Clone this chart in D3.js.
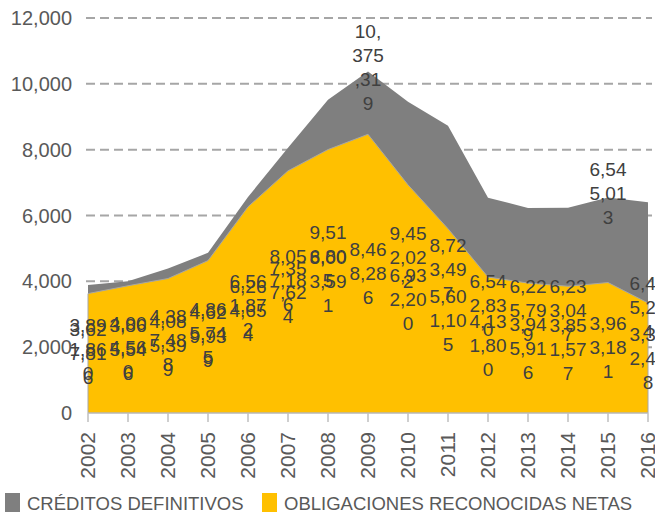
<!DOCTYPE html>
<html>
<head>
<meta charset="utf-8">
<script src="https://cdn.jsdelivr.net/npm/d3@7"></script>
<style>
  body { margin: 0; background: #fff; }
  text { font-family: "Liberation Sans", Arial, sans-serif; }
</style>
</head>
<body>
<script>
// Chart data (thousands)
let years = [2002, 2003, 2004, 2005, 2006, 2007, 2008, 2009, 2010, 2011, 2012, 2013, 2014, 2015, 2016];
let creditos = [3891.860, 4004.560, 4387.488, 4865.745, 6561.872, 8057.186, 9516.805, 10375.319,
  9452.022, 8723.497, 6542.830, 6225.799, 6233.047, 6545.013, 6405.224];
let obligaciones = [3627.816, 3865.546, 4085.399, 4629.939, 6264.654, 7357.624, 8003.591, 8468.286,
  6932.200, 5601.105, 4131.800, 3945.916, 3851.577, 3963.181, 3342.428];
let yTicks = [0, 2000, 4000, 6000, 8000, 10000, 12000];
// years where the creditos label sits on the top of the area
let topLabelYears = [2009, 2015];

let width = 655;
let height = 521;

let svg = d3.select("body").append("svg")
  .attr("width", width)
  .attr("height", height);

let x = d3.scalePoint().domain(years).range([88, 648]);
let y = d3.scaleLinear().domain([0, 12000]).range([413, 18]);

// gridlines
svg.append("g")
  .selectAll("line")
  .data(yTicks.filter(d => d > 0))
  .join("line")
  .attr("x1", 86)
  .attr("x2", 652)
  .attr("y1", d => y(d))
  .attr("y2", d => y(d))
  .attr("stroke", "#a6a6a6")
  .attr("stroke-width", 2)
  .attr("stroke-dasharray", "9,5");

// y tick labels
svg.append("g")
  .selectAll("text")
  .data(yTicks)
  .join("text")
  .attr("x", 72)
  .attr("y", d => y(d))
  .attr("dy", "0.35em")
  .attr("text-anchor", "end")
  .style("font-size", "20px")
  .attr("fill", "#595959")
  .text(d => d3.format(",")(d));

// areas
let area = d3.area()
  .x((d, i) => x(years[i]))
  .y0(y(0))
  .y1(d => y(d));

svg.append("path")
  .datum(creditos)
  .attr("d", area)
  .attr("fill", "#7f7f7f");

svg.append("path")
  .datum(obligaciones)
  .attr("d", area)
  .attr("fill", "#ffc000")
  .attr("stroke", "#a6a6a6")
  .attr("stroke-width", 1);

// x axis
svg.append("line")
  .attr("x1", x(years[0]))
  .attr("x2", x(years[years.length - 1]))
  .attr("y1", y(0))
  .attr("y2", y(0))
  .attr("stroke", "#bfbfbf");

svg.append("g")
  .selectAll("line")
  .data(years)
  .join("line")
  .attr("x1", d => x(d))
  .attr("x2", d => x(d))
  .attr("y1", y(0))
  .attr("y2", y(0) + 9)
  .attr("stroke", "#bfbfbf")
  .attr("stroke-width", 1.5);

svg.append("g")
  .selectAll("text")
  .data(years)
  .join("text")
  .attr("transform", d => `translate(${x(d)},${y(0) + 19}) rotate(-90)`)
  .attr("dy", "0.35em")
  .attr("text-anchor", "end")
  .style("font-size", "21px")
  .attr("fill", "#595959")
  .text(d => d);

// data labels, wrapped like the original ones
function wrapLabel(v) {
  let s = d3.format(",")(Math.round(v * 1000));
  let size = s.length >= 10 ? 3 : 4;
  let lines = [];
  for (let i = 0; i < s.length; i += size) lines.push(s.slice(i, i + size));
  return lines;
}

let lineH = 24;
function drawLabels(values, onTop) {
  let g = svg.append("g");
  values.forEach(function (v, i) {
    let lines = wrapLabel(v);
    let cy = onTop(years[i]) ? y(v) - 4 : y(v / 2);
    let t = g.append("text")
      .attr("text-anchor", "middle")
      .style("font-size", "19px")
      .attr("fill", "#404040");
    lines.forEach(function (l, j) {
      t.append("tspan")
        .attr("x", x(years[i]))
        .attr("y", cy - (lines.length - 1) * lineH / 2 + j * lineH)
        .attr("dy", "0.35em")
        .text(l);
    });
  });
}

drawLabels(creditos, yr => topLabelYears.includes(yr));
drawLabels(obligaciones, () => false);

// legend
let legendItems = [
  { name: "CRÉDITOS DEFINITIVOS", color: "#7f7f7f", x: 5 },
  { name: "OBLIGACIONES RECONOCIDAS NETAS", color: "#ffc000", x: 262 }
];

let legend = svg.append("g")
  .selectAll("g")
  .data(legendItems)
  .join("g")
  .attr("transform", d => `translate(${d.x},493)`);

legend.append("rect")
  .attr("width", 15)
  .attr("height", 19)
  .attr("fill", d => d.color);

legend.append("text")
  .attr("x", 22)
  .attr("y", 17)
  .style("font-size", "18.5px")
  .attr("fill", "#595959")
  .text(d => d.name);
</script>
</body>
</html>
